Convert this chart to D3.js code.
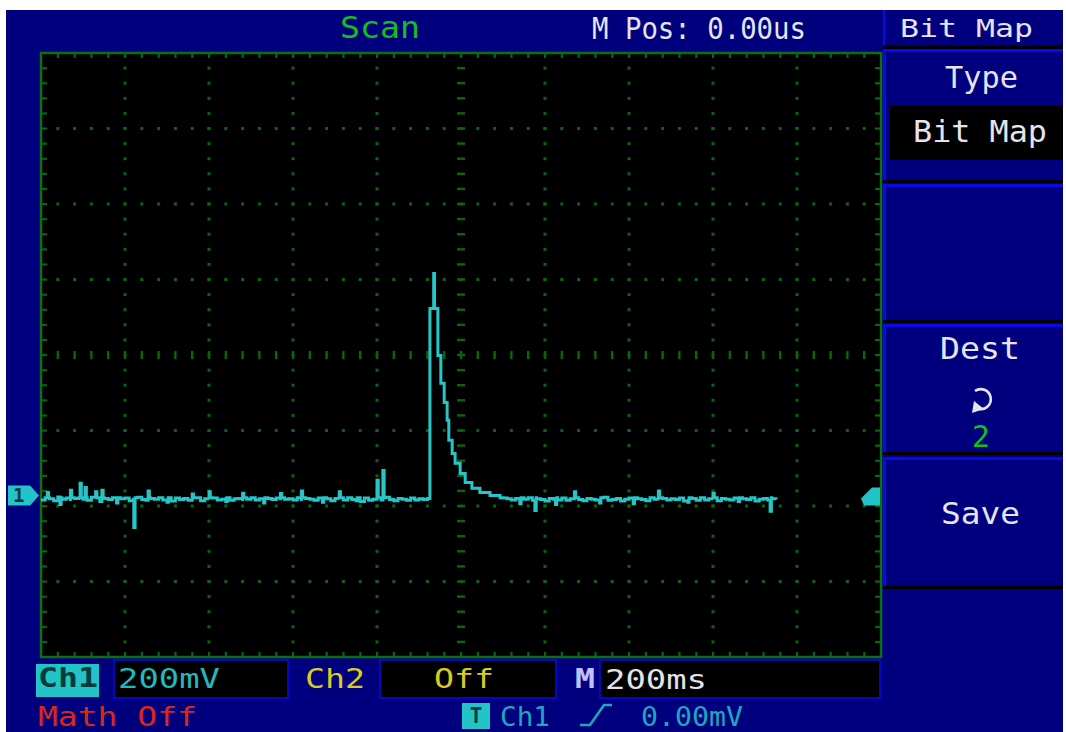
<html>

<head>
  <script src="https://d3js.org/d3.v7.min.js"></script>

  <style>
    body {
      margin: 0;
      background: white;
    }

    text {
      font-family: "DejaVu Sans Mono", monospace;
    }

    .trace {
      fill: none;
      stroke: #26c6c8;
      stroke-width: 3px;
    }
  </style>
</head>

<body>
  <svg id="scope" width="1066" height="732"></svg>

  <script>
    // Ch1 trace, mV relative to channel ground
    // baseline samples every 10 ms from -1000 ms to -80 ms
    const preMv = [
      -12, -6, -9, -14, -4, -10, -7, -15, -8, -6,
      -10, -13, -5, -9, -16, -8, -11, -6, -12, -9,
      -7, -14, -10, -5, -11, -13, -8, -10, -6, -12,
      -9, -15, -7, -11, -8, -13, -10, -6, -14, -9,
      -11, -7, -12, -10, -5, -13, -9, -8, -15, -10,
      -6, -12, -9, -14, -8, -11, -7, -13, -10, -9,
      -12, -6, -15, -8, -10, -13, -7, -11, -9, -14,
      -8, -10, -12, -6, -11, -9, -16, -7, -13, -10,
      -9, -12, -5, -11, -14, -8, -10, -13, -7, -12,
      -9, -11, -8
    ];
    // baseline samples every 10 ms from 100 ms to 750 ms
    const postMv = [
      -7, -9, -12, -8, -14, -10, -6, -13, -9, -11,
      -15, -8, -10, -12, -7, -13, -9, -6, -11, -14,
      -8, -10, -12, -9, -5, -13, -11, -8, -15, -10,
      -7, -12, -9, -11, -14, -6, -10, -13, -8, -12,
      -9, -11, -7, -15, -10, -8, -13, -6, -12, -9,
      -11, -14, -8, -10, -12, -7, -13, -9, -11, -6,
      -15, -10, -8, -12, -9, -11
    ];
    // the pulse
    const pulseMs = [-74, -65, -63, -55, -48, -40, -33, -29, -21, -14, -2, 10, 26, 45, 69, 93];
    const pulseMv = [495, 588, 495, 371, 297, 246, 199, 146, 111, 85, 58, 34, 19, 8, 0, -6];
    // single glitches
    const glitchMs = [-985, -955, -930, -907, -895, -870, -855, -820, -779, -745, -700, -640, -600, -560,
      -520, -470, -430, -380, -330, -290, -250, -200, -186, 140, 176, 225, 270, 330, 410, 470, 540, 600, 660, 736];
    const glitchMv = [8, -24, 14, 32, 21, 10, 14, -20, -85, 12, -18, 4, 10, -16, 6, -20, 5, 12, -18, 10, -14,
      40, 66, -22, -40, -24, 10, -20, -22, 12, -18, 6, -16, -42];

    const CH1_POS_MV = -372;

    const topTexts = [
      { t: "Scan", x: 340, y: 38, len: 80, size: 31, c: "#10c020" },
      { t: "M Pos: 0.00us", x: 592, y: 39, len: 214, size: 31, c: "#e4e4ec" }
    ];
    const menuTexts = [
      { t: "Bit  Map", x: 900, y: 37, len: 133, size: 24, c: "#e4e4ec" },
      { t: "Type", x: 945, y: 88, len: 73, size: 31, c: "#e4e4ec" },
      { t: "Bit  Map", x: 913, y: 142, len: 134, size: 31, c: "#e4e4ec" },
      { t: "Dest", x: 940, y: 359, len: 80, size: 31, c: "#e4e4ec" },
      { t: "2", x: 972, y: 447, len: 18, size: 31, c: "#10c020" },
      { t: "Save", x: 941, y: 524, len: 79, size: 31, c: "#e4e4ec" }
    ];
    const bottomTexts = [
      { t: "Ch1", x: 38, y: 687, len: 60, size: 27, c: "#063c40", w: "bold" },
      { t: "200mV", x: 118, y: 688, len: 102, size: 27, c: "#22b8bc" },
      { t: "Ch2", x: 305, y: 688, len: 60, size: 27, c: "#d8cc20" },
      { t: "Off", x: 434, y: 688, len: 60, size: 27, c: "#d8cc20" },
      { t: "M", x: 575, y: 688, len: 20, size: 27, c: "#c0c0ff", w: "bold" },
      { t: "200ms", x: 605, y: 689, len: 102, size: 27, c: "#e4e4e4" },
      { t: "Math Off", x: 38, y: 726, len: 159, size: 26, c: "#d82818" },
      { t: "Ch1", x: 500, y: 726, len: 50, size: 26, c: "#1aa8c0" },
      { t: "0.00mV", x: 641, y: 726, len: 102, size: 26, c: "#1aa8c0" }
    ];

    const svg = d3.select("#scope");
    const navy = "#00007e";
    const bright = "#0a0ae6";

    // frame
    svg.append("rect").attr("x", 6).attr("y", 10).attr("width", 1057).attr("height", 722).attr("fill", navy);

    // screen area
    const gx0 = 41, gx1 = 881, gy0 = 53, gy1 = 657;
    const x = d3.scaleLinear().domain([-1000, 1000]).range([gx0, gx1]);
    const y = d3.scaleLinear().domain([-800, 800]).range([gy1, gy0]);
    const divX = (gx1 - gx0) / 10, divY = (gy1 - gy0) / 8;

    svg.append("rect").attr("x", gx0).attr("y", gy0).attr("width", gx1 - gx0).attr("height", gy1 - gy0)
      .attr("fill", "black");

    const grid = svg.append("g").attr("fill", "#0c640c");
    const minorX = d3.range(1, 50).map(i => gx0 + i * divX / 5);
    const minorY = d3.range(1, 40).map(i => gy0 + i * divY / 5);

    // dots on the major lines
    d3.range(1, 10).filter(k => k != 5).forEach(k => {
      const xx = gx0 + k * divX;
      grid.selectAll(null).data(minorY).join("rect")
        .attr("x", xx - 1.5).attr("y", d => d - 1.5).attr("width", 3).attr("height", 3);
    });
    d3.range(1, 8).filter(k => k != 4).forEach(k => {
      const yy = gy0 + k * divY;
      grid.selectAll(null).data(minorX).join("rect")
        .attr("x", d => d - 1.5).attr("y", yy - 1.5).attr("width", 3).attr("height", 3);
    });
    // centre axes with dashes
    const cx = (gx0 + gx1) / 2, cy = (gy0 + gy1) / 2;
    grid.selectAll(null).data(minorY).join("rect")
      .attr("x", cx - 4).attr("y", d => d - 1.2).attr("width", 8).attr("height", 2.4);
    grid.selectAll(null).data(minorX).join("rect")
      .attr("x", d => d - 1.2).attr("y", cy - 4).attr("width", 2.4).attr("height", 8);
    // ticks along the border
    grid.selectAll(null).data(minorX).join("rect")
      .attr("x", d => d - 1).attr("y", gy0).attr("width", 2.2).attr("height", 5);
    grid.selectAll(null).data(minorX).join("rect")
      .attr("x", d => d - 1).attr("y", gy1 - 5).attr("width", 2.2).attr("height", 5);
    grid.selectAll(null).data(minorY).join("rect")
      .attr("x", gx0).attr("y", d => d - 1).attr("width", 6).attr("height", 2.2);
    grid.selectAll(null).data(minorY).join("rect")
      .attr("x", gx1 - 6).attr("y", d => d - 1).attr("width", 6).attr("height", 2.2);

    svg.append("rect").attr("x", gx0).attr("y", gy0).attr("width", gx1 - gx0).attr("height", gy1 - gy0)
      .attr("fill", "none").attr("stroke", "#0e6e12").attr("stroke-width", 2.5);

    // build the trace points
    let pts = [];
    preMv.forEach((v, i) => pts.push([-1000 + i * 10, v]));
    pulseMs.forEach((t, i) => pts.push([t, pulseMv[i]]));
    postMv.forEach((v, i) => pts.push([100 + i * 10, v]));
    glitchMs.forEach((t, i) => {
      const before = pts.filter(p => p[0] <= t).slice(-1)[0];
      pts.push([t, glitchMv[i]]);
      pts.push([t + 3, before ? before[1] : -10]);
    });
    pts.sort((a, b) => a[0] - b[0]);

    const line = d3.line()
      .x(d => x(d[0]))
      .y(d => y(d[1] + CH1_POS_MV))
      .curve(d3.curveStepAfter);

    svg.append("path").datum(pts).attr("class", "trace").attr("d", line);

    // channel ground marker and trigger level marker
    const gy = y(CH1_POS_MV);
    svg.append("polygon")
      .attr("points", [[8, gy - 10], [30, gy - 10], [39, gy], [30, gy + 10], [8, gy + 10]].join(" "))
      .attr("fill", "#22c4c8");
    svg.append("text").attr("x", 13).attr("y", gy + 7).attr("font-size", 19).attr("font-weight", "bold")
      .attr("fill", "#043840").text("1");
    svg.append("polygon")
      .attr("points", [[861, gy + 3], [872, gy - 8], [880, gy - 8], [880, gy + 10], [864, gy + 10]].join(" "))
      .attr("fill", "#22c4c8");

    // right menu
    const menu = svg.append("g");
    menu.append("rect").attr("x", 883).attr("y", 10).attr("width", 2).attr("height", 36).attr("fill", bright);
    menu.append("rect").attr("x", 883).attr("y", 45).attr("width", 180).attr("height", 4).attr("fill", "black");
    const boxes = [[49, 181], [184, 321], [324, 453], [457, 587]];
    boxes.forEach(b => {
      menu.append("rect").attr("x", 883).attr("y", b[0]).attr("width", 180).attr("height", b[1] - b[0]).attr("fill", navy);
      menu.append("rect").attr("x", 883).attr("y", b[0]).attr("width", 180).attr("height", 3).attr("fill", bright);
      menu.append("rect").attr("x", 883).attr("y", b[0]).attr("width", 3).attr("height", b[1] - b[0]).attr("fill", bright);
      menu.append("rect").attr("x", 883).attr("y", b[1] - 1).attr("width", 180).attr("height", 3).attr("fill", "black");
    });
    menu.append("rect").attr("x", 890).attr("y", 106).attr("width", 173).attr("height", 54).attr("fill", "black");

    // refresh icon in Dest
    menu.append("path").attr("d", "M975,391 A10,10 0 1 1 979,409")
      .attr("fill", "none").attr("stroke", "#e4e4ec").attr("stroke-width", 2.6);
    menu.append("polygon").attr("points", "972,413 974,401 984,409").attr("fill", "#e4e4ec");

    // bottom status boxes
    const status = svg.append("g");
    status.append("rect").attr("x", 36).attr("y", 664).attr("width", 63).attr("height", 33).attr("fill", "#22c4c8");
    [[114, 288], [380, 556], [600, 880]].forEach(b => {
      status.append("rect").attr("x", b[0]).attr("y", 660).attr("width", b[1] - b[0]).attr("height", 38)
        .attr("fill", "black").attr("stroke", bright).attr("stroke-width", 1.5);
    });
    status.append("rect").attr("x", 462).attr("y", 703).attr("width", 28).attr("height", 26).attr("fill", "#22c4c8");
    status.append("text").attr("x", 476).attr("y", 723).attr("text-anchor", "middle").attr("font-size", 21)
      .attr("font-weight", "bold").attr("fill", "#063c40").text("T");
    status.append("path").attr("d", "M580,725 H590 L604,705 H612")
      .attr("fill", "none").attr("stroke", "#1aa8c0").attr("stroke-width", 2.6);

    // all the labels
    svg.append("g").selectAll("text").data(topTexts.concat(menuTexts, bottomTexts)).join("text")
      .attr("x", d => d.x).attr("y", d => d.y)
      .attr("font-size", d => d.size)
      .attr("font-weight", d => d.w || "normal")
      .attr("fill", d => d.c)
      .attr("textLength", d => d.len)
      .attr("lengthAdjust", "spacingAndGlyphs")
      .text(d => d.t);
  </script>
</body>

</html>
